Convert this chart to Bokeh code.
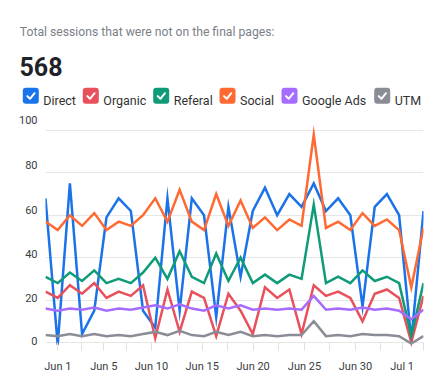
from bokeh.plotting import figure
from bokeh.layouts import column
from bokeh.models import Range1d, FixedTicker
from bokeh.core.properties import value
from bokeh.embed import file_html
from bokeh.resources import INLINE

# ---------------- data ----------------
title_text = "Total sessions that were not on the final pages:"
total_text = "568"

series_names = ["Direct", "Organic", "Referal", "Social", "Google Ads", "UTM"]

direct = [68, -1, 75, 4, 15, 59, 68, 62, 15, 7, 68, 15, 68, 60, 12, 64,
          31, 62, 73, 60, 70, 64, 75, 62, 68, 60, 17, 64, 70, 60, 1, 62]
organic = [24, 21, 27, 23, 28, 21, 24, 22, 27, 2, 25, 5, 24, 21, 3, 23,
           15, 4, 26, 21, 25, 4, 27, 22, 24, 21, 10, 23, 25, 21, 0, 22]
referal = [31, 28, 33, 29, 34, 28, 30, 28, 33, 40, 30, 43, 31, 28, 42, 29,
           40, 28, 32, 28, 32, 30, 65, 28, 31, 28, 34, 29, 31, 28, 3, 28]
social = [57, 53, 60, 55, 61, 53, 57, 55, 60, 68, 57, 72, 57, 53, 70, 55,
          67, 54, 59, 53, 58, 55, 98, 54, 57, 53, 61, 55, 58, 53, 26, 54]
google_ads = [16, 15, 16, 15.5, 16.5, 15, 16, 15.5, 16.5, 17.5, 16, 18, 16, 15, 17.5, 16,
              17.5, 15.5, 16, 15.5, 16, 15.5, 22, 15.5, 16, 15.5, 16.5, 15.5, 16, 15, 11, 15.5]
utm = [3.5, 3, 4, 3, 4, 3, 3.5, 3, 4, 5, 3.5, 5.5, 3.5, 3, 5, 3.5,
       5, 3, 3.5, 3, 3.5, 3.5, 10, 3, 3.5, 3, 4, 3.5, 3.5, 3, -0.5, 3]

x_index = list(range(len(direct)))

x_tick_labels = ["Jun 1", "Jun 5", "Jun 10", "Jun 15", "Jun 20", "Jun 25", "Jun 30", "Jul 1"]
x_tick_pos = [1.01, 4.78, 8.69, 12.85, 17.03, 21.24, 25.42, 29.25]
x_minor_pos = [2.93, 6.64, 10.8, 14.9, 19.13, 23.31, 27.47, 30.97]

y_tick_labels = ["0", "20", "40", "60", "80", "100"]
y_grid_values = [0, 20, 40, 60, 80, 100]
y_label_pos = [0.5, 20.9, 41.8, 62.7, 83.8, 104.7]

# ---------------- styles ----------------
colors = ["#1a73e8", "#e8505b", "#0f9b78", "#ff6a33", "#a66cff", "#8a8d96"]
FONT = value("Roboto")

all_series = [direct, organic, referal, social, google_ads, utm]

# ---------------- header (pixel coordinates) ----------------
W = 443
HH = 108
h = figure(width=W, height=HH, x_range=Range1d(0, W), y_range=Range1d(HH, 0),
           output_backend="svg", toolbar_location=None,
           x_axis_location=None, y_axis_location=None,
           min_border=0, min_border_left=0, min_border_right=0,
           min_border_top=0, min_border_bottom=0)
h.frame_align = False
h.grid.visible = False
h.outline_line_color = None

h.text(x=[19.3], y=[31.7], text=[title_text], text_font=FONT, text_font_size="12.2px",
       text_color="#7b8088", text_baseline="alphabetic")
h.text(x=[19], y=[66], text=[total_text], text_font=FONT, text_font_size="25px",
       text_font_style="bold", text_color="#1f2329", text_baseline="alphabetic")

legend_x = [22.3, 82.3, 152.7, 219, 281, 373.7]
box = 16
cy = 95.3
h.quad(left=legend_x, right=[v + box for v in legend_x],
       top=[cy - box / 2] * 6, bottom=[cy + box / 2] * 6,
       fill_color=colors, line_color=None, border_radius=3)
h.multi_line(xs=[[v + 4.5, v + 7.2, v + 11.8] for v in legend_x],
             ys=[[cy + 0.3, cy + 3, cy - 2.6] for _ in legend_x],
             line_color="white", line_width=2, line_cap="round", line_join="round")
h.text(x=[v + box + 4.5 for v in legend_x], y=[cy + 4.7] * 6, text=series_names,
       text_font=FONT, text_font_size="12.5px", text_color="#333333",
       text_baseline="alphabetic")

# ---------------- chart ----------------
p = figure(width=W, height=283, x_range=Range1d(0, 31), y_range=Range1d(-3.77, 107.5),
           output_backend="svg", toolbar_location=None,
           min_border_left=45, min_border_right=20, min_border_top=6, min_border_bottom=41)
p.frame_align = False
p.outline_line_color = None

for vals, c in zip(all_series, colors):
    p.line(x_index, vals, line_color=c, line_width=2.5, line_join="miter")

p.xgrid.visible = False
p.ygrid.ticker = FixedTicker(ticks=y_grid_values)
p.ygrid.grid_line_color = "#e6e6e6"
p.ygrid.grid_line_width = 1

p.xaxis.ticker = FixedTicker(ticks=x_tick_pos, minor_ticks=x_minor_pos)
p.xaxis.major_label_overrides = {pos: lab for pos, lab in zip(x_tick_pos, x_tick_labels)}
p.xaxis.axis_line_color = None
p.xaxis.major_tick_in = 8
p.xaxis.major_tick_out = 0
p.xaxis.minor_tick_in = 8
p.xaxis.minor_tick_out = 0
p.xaxis.major_tick_line_color = "#e0e0e0"
p.xaxis.minor_tick_line_color = "#e0e0e0"
p.xaxis.major_label_standoff = 9
p.xaxis.major_label_text_font = "Roboto"
p.xaxis.major_label_text_font_size = "11px"
p.xaxis.major_label_text_color = "#373d3f"

p.yaxis.ticker = FixedTicker(ticks=y_label_pos)
p.yaxis.major_label_overrides = {pos: lab for pos, lab in zip(y_label_pos, y_tick_labels)}
p.yaxis.axis_line_color = None
p.yaxis.major_tick_line_color = None
p.yaxis.minor_tick_line_color = None
p.yaxis.major_tick_in = 0
p.yaxis.major_tick_out = 0
p.yaxis.major_label_standoff = 8
p.yaxis.major_label_text_font = "Roboto"
p.yaxis.major_label_text_font_size = "11px"
p.yaxis.major_label_text_color = "#373d3f"

layout = column(h, p, spacing=0)
open("out.html", "w").write(file_html(layout, INLINE))
